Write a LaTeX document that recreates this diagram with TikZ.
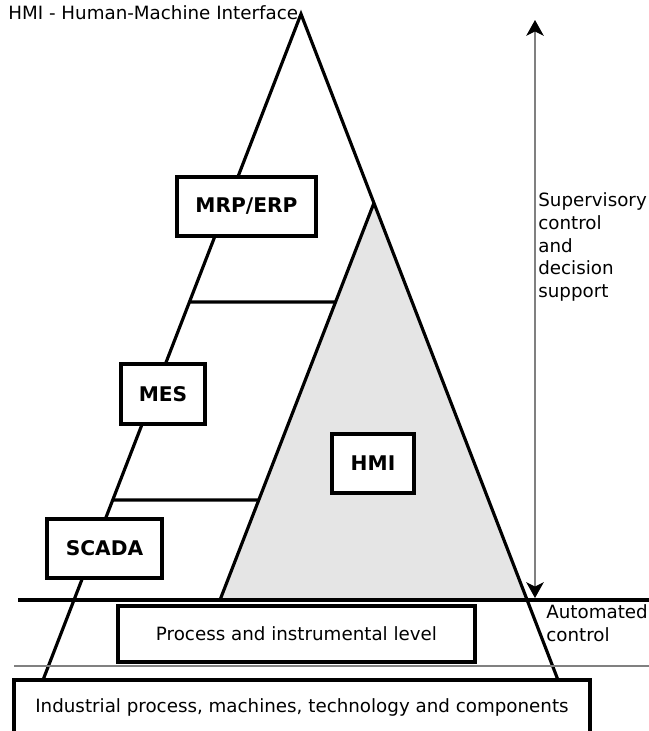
\documentclass[tikz,border=0pt]{standalone}
\usepackage{fontspec}
\setmainfont{DejaVu Sans}
\usetikzlibrary{arrows.meta,calc,positioning}

\begin{document}
\begin{tikzpicture}[x=0.02cm,y=-0.02cm,
   levelstyle/.style={rectangle,draw,line width=1.8pt,fill=white,inner sep=0pt,font=\fontsize{11.5}{14}\selectfont\bfseries},
   boxstyle/.style={rectangle,draw,line width=1.8pt,fill=white,inner sep=0pt,font=\fontsize{10.4}{13}\selectfont},
   labelstyle/.style={inner sep=0pt,align=left,font=\fontsize{10.4}{13.04}\selectfont},
   edgestyle/.style={line width=1.8pt}]

       \useasboundingbox (0,0) rectangle (649,731);
       \clip (0,0) rectangle (649,731);

       % pyramid
       \coordinate (top) at (301,14);
       \coordinate (bl) at (43,680);
       \coordinate (br) at (558,680);
       \coordinate (htop) at ($(top)!0.2838!(br)$);
       \coordinate (hbl) at (220,600);
       \coordinate (hbr) at ($(top)!0.88!(br)$);

       \fill [gray!20] (htop) -- (hbl) -- (hbr) -- cycle;
       \draw [edgestyle] (htop) -- (hbl);
       \draw [edgestyle,line join=miter] (bl) -- (top) -- (br);

       % level lines
       \coordinate (l1a) at ($(top)!0.4324!(bl)$);
       \coordinate (l1b) at ($(htop)!0.2494!(hbl)$);
       \coordinate (l2a) at ($(top)!0.7297!(bl)$);
       \coordinate (l2b) at ($(htop)!0.748!(hbl)$);
       \draw [edgestyle] (l1a) -- (l1b);
       \draw [edgestyle] (l2a) -- (l2b);

       \coordinate (baseL) at (18,600);
       \coordinate (baseR) at (649,600);
       \coordinate (fieldL) at (14,666);
       \coordinate (fieldR) at (649,666);
       \draw [edgestyle] (baseL) -- (baseR);
       \draw [gray,line width=0.85pt] (fieldL) -- (fieldR);

       % arrow
       \coordinate (atop) at (535,20);
       \coordinate (abot) at (535,598);
       \draw [gray,line width=0.6pt,{Stealth[black,length=9pt,width=10pt,inset=2.5pt]}-{Stealth[black,length=9pt,width=10pt,inset=2.5pt]}] (abot) -- (atop);

       \node [levelstyle,minimum width=2.78cm,minimum height=1.18cm] (mrp) at (246.5,206.5) {MRP/ERP};
       \node [levelstyle,minimum width=1.68cm,minimum height=1.2cm] (mes) at (163,394) {MES};
       \node [levelstyle,minimum width=2.3cm,minimum height=1.18cm] (scada) at (104.5,548.5) {SCADA};
       \node [levelstyle,minimum width=1.64cm,minimum height=1.18cm] (hmi) at (373,463.5) {HMI};
       \node [boxstyle,minimum width=7.14cm,minimum height=1.12cm] (proc) at (296.5,634) {Process and instrumental level};
       \node [boxstyle,minimum width=11.52cm,minimum height=1.08cm] (ind) at (302,707) {Industrial process, machines, technology and components};

       \node [labelstyle,anchor=north west] (sup) at (538,192) {Supervisory\\control\\and\\decision\\support};
       \node [labelstyle,anchor=north west] (auto) at (546,604) {Automated\\control};
       \node [labelstyle,anchor=base west] (legend) at (8,19) {HMI - Human-Machine Interface};
\end{tikzpicture}
\end{document}
